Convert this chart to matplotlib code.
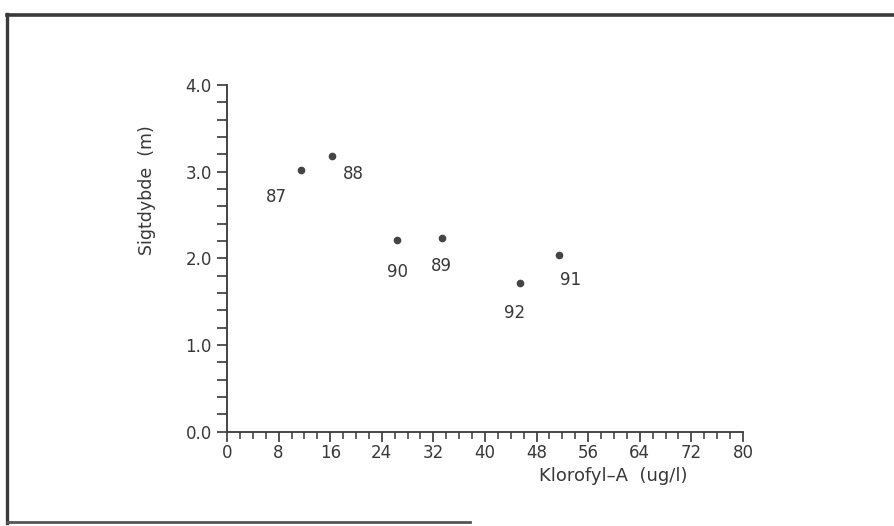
import matplotlib.pyplot as plt
from matplotlib.lines import Line2D
from matplotlib.ticker import MultipleLocator

# Sigtdybde vs. klorofyl, one point per year
years = ['87', '88', '90', '89', '92', '91']
klorofyl = [11.4, 16.3, 26.4, 33.3, 45.4, 51.4]
sigtdybde = [3.02, 3.18, 2.21, 2.24, 1.72, 2.04]

x_ticks = [0, 8, 16, 24, 32, 40, 48, 56, 64, 72, 80]
y_ticks = [0.0, 1.0, 2.0, 3.0, 4.0]

# label placement (pixels from the dot)
label_offsets = [(-24, -27), (21, -18), (0, -32), (0, -28), (-5, -30), (12, -25)]

ink = '#383838'
fs = 12
plt.rcParams['font.family'] = ['DejaVu Sans']

fig = plt.figure(figsize=(8.95, 5.26), dpi=100)
ax = fig.add_axes([227 / 895, 1 - 431.7 / 526, 516 / 895, 346.7 / 526])

ax.plot(klorofyl, sigtdybde, 'o', color='#444444', markersize=4.5, clip_on=False)
for yr, x, y, off in zip(years, klorofyl, sigtdybde, label_offsets):
    ax.annotate(yr, (x, y), xytext=off, textcoords='offset pixels',
                ha='center', va='center', fontsize=fs, color=ink)

ax.set_xlim(0, 80)
ax.set_ylim(0, 4)
ax.set_xticks(x_ticks)
ax.set_yticks(y_ticks)
ax.set_yticklabels([f'{v:.1f}' for v in y_ticks])
ax.xaxis.set_minor_locator(MultipleLocator(2))
ax.yaxis.set_minor_locator(MultipleLocator(0.2))

for side in ['top', 'right']:
    ax.spines[side].set_visible(False)
for side in ['left', 'bottom']:
    ax.spines[side].set_color(ink)
    ax.spines[side].set_linewidth(1.3)

ax.tick_params(axis='x', which='major', length=7, width=1.2, color=ink,
               labelsize=fs, labelcolor=ink, pad=2)
ax.tick_params(axis='x', which='minor', length=5, width=1.1, color=ink)
ax.tick_params(axis='y', which='both', length=7, width=1.2, color=ink,
               labelsize=fs, labelcolor=ink, pad=4)

fig.text(147 / 895, 1 - 190 / 526, 'Sigtdybde  (m)', rotation=90,
         ha='center', va='center', fontsize=12.5, color=ink)
fig.text(613 / 895, 1 - 476 / 526, 'Klorofyl\u2013A  (ug/l)',
         ha='center', va='center', fontsize=13, color=ink)

# page frame around the figure
def px_line(xs, ys, lw, color):
    fig.add_artist(Line2D([x / 895 for x in xs], [1 - y / 526 for y in ys],
                          transform=fig.transFigure, lw=lw, color=color))

px_line([7, 895], [15, 15], 2.6, '#3a3a3a')
px_line([7, 7], [14, 523], 2.4, '#3a3a3a')
px_line([7, 470], [522, 522], 2.0, '#555555')

fig.savefig('out.png', dpi=100)
